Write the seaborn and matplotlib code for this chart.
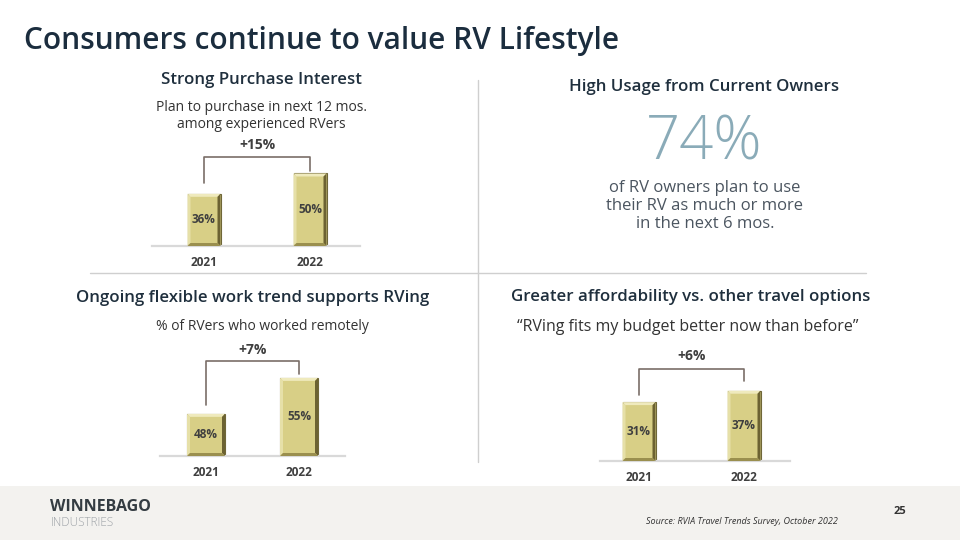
import matplotlib
matplotlib.use("Agg")
import matplotlib.pyplot as plt
import matplotlib.transforms as mtransforms
from matplotlib.patches import Polygon, Rectangle
from matplotlib.lines import Line2D
import seaborn as sns
import pandas as pd

# ---------------- data ----------------
years = ["2021", "2022"]
purchase_values = [36, 50]
remote_values = [48, 55]
budget_values = [31, 37]
purchase_change = "+15%"
remote_change = "+7%"
budget_change = "+6%"
usage_value = "74%"

title = "Consumers continue to value RV Lifestyle"
h_purchase = "Strong Purchase Interest"
s_purchase = "Plan to purchase in next 12 mos.\namong experienced RVers"
h_usage = "High Usage from Current Owners"
s_usage = "of RV owners plan to use\ntheir RV as much or more\nin the next 6 mos."
h_remote = "Ongoing flexible work trend supports RVing"
s_remote = "% of RVers who worked remotely"
h_budget = "Greater affordability vs. other travel options"
s_budget = "\u201cRVing fits my budget better now than before\u201d"
source = "Source: RVIA Travel Trends Survey, October 2022"
page_no = "25"

# ---------------- style ----------------
sns.set_theme(style="white")
plt.rcParams["font.family"] = ["Open Sans", "DejaVu Sans"]

W, H = 960, 540
fig = plt.figure(figsize=(9.6, 5.4), dpi=100)
fig.patch.set_facecolor("white")

def fx(px):
    return px / W

def fy(py):
    return 1 - py / H

NAVY = "#1b2d3e"
HEAD = "#1f2f3d"
TXT = "#333333"
LAB = "#3f3f3f"
BAR = "#d8cf86"

# footer band
fig.add_artist(Rectangle((0, 0), 1, fy(486), transform=fig.transFigure,
                         facecolor="#f3f2ef", edgecolor="none", zorder=0))

# dividers
fig.add_artist(Line2D([fx(478), fx(478)], [fy(80), fy(462)], transform=fig.transFigure,
                      color="#cfcfcf", lw=1))
fig.add_artist(Line2D([fx(90), fx(866)], [fy(273), fy(273)], transform=fig.transFigure,
                      color="#cfcfcf", lw=1))

# title
fig.text(fx(24), fy(41), title, fontsize=21.5, fontweight="semibold", color=NAVY,
         ha="left", va="center")

# headings / subtitles
HS = 12.2
fig.text(fx(261), fy(80), h_purchase, fontsize=HS, fontweight="semibold", color=HEAD,
         ha="center", va="center")
fig.text(fx(261), fy(116), s_purchase, fontsize=10, color=TXT, ha="center", va="center",
         linespacing=1.25)
fig.text(fx(704), fy(87), h_usage, fontsize=HS, fontweight="semibold", color=HEAD,
         ha="center", va="center")
fig.text(fx(704), fy(144), usage_value, fontsize=43, fontweight=300, color="#8aabb8",
         ha="center", va="center")
fig.text(fx(705), fy(206), s_usage, fontsize=12, color="#4b5560", ha="center", va="center",
         linespacing=1.2)
fig.text(fx(253), fy(298), h_remote, fontsize=HS, fontweight="semibold", color=HEAD,
         ha="center", va="center")
fig.text(fx(262), fy(327), s_remote, fontsize=10, color=TXT, ha="center", va="center")
fig.text(fx(691), fy(297), h_budget, fontsize=HS, fontweight="semibold", color=HEAD,
         ha="center", va="center")
fig.text(fx(688), fy(327), s_budget, fontsize=11.5, color=TXT, ha="center", va="center")

# footer texts
fig.text(fx(50), fy(507), "WINNEBAGO", fontsize=11.5, fontweight="bold", color="#343c42",
         ha="left", va="center")
fig.text(fx(51), fy(523), "INDUSTRIES", fontsize=8.5, fontweight=300, color="#9ea3a8",
         ha="left", va="center")
fig.text(fx(900), fy(512), page_no, fontsize=8, fontweight="bold", color="#333333",
         ha="center", va="center")
fig.text(fx(838), fy(522), source, fontsize=6.5, style="italic", color="#333333",
         ha="right", va="center")


def bar_panel(values, change, baseline, k, v0, c0, c1, bw, xl, xr,
              gap_h, gap_l, gap_r, gap_lab):
    top_px = 150
    rect = [fx(xl), fy(baseline), (xr - xl) / W, top_px / H]
    ax = fig.add_axes(rect)
    d = c1 - c0
    df = pd.DataFrame({"year": years, "value": values})
    sns.barplot(data=df, x="year", y="value", ax=ax, color=BAR, width=bw / d,
                edgecolor="#6f6738", linewidth=0.8, saturation=1)
    ax.set_xlim((xl - c0) / d, (xr - c0) / d)
    ax.set_ylim(v0, v0 + top_px / k)
    ax.set_xlabel("")
    ax.set_ylabel("")
    ax.set_yticks([])
    ax.set_facecolor("none")
    for s in ["top", "right", "left"]:
        ax.spines[s].set_visible(False)
    ax.spines["bottom"].set_color("#d9d9d9")
    ax.spines["bottom"].set_linewidth(1.6)
    ax.tick_params(axis="x", length=0, pad=7)
    for t in ax.get_xticklabels():
        t.set_fontsize(8.5)
        t.set_fontweight("bold")
        t.set_color(LAB)

    # bevel effect and value labels
    ident = mtransforms.IdentityTransform()
    tops = []
    for p in ax.patches:
        x0, w, h = p.get_x(), p.get_width(), p.get_height()
        (X0, Y0), (X1, Y1) = ax.transData.transform([(x0, v0), (x0 + w, h)])
        b = 3.0
        for pts, col in [
            ([(X0, Y0), (X0 + b, Y0 + b), (X0 + b, Y1 - b), (X0, Y1)], "#e6e0a8"),
            ([(X0, Y1), (X0 + b, Y1 - b), (X1 - b, Y1 - b), (X1, Y1)], "#efeabd"),
            ([(X1, Y1), (X1 - b, Y1 - b), (X1 - b, Y0 + b), (X1, Y0)], "#6c6232"),
            ([(X0, Y0), (X0 + b, Y0 + b), (X1 - b, Y0 + b), (X1, Y0)], "#9a8f4e"),
        ]:
            ax.add_patch(Polygon(pts, closed=True, transform=ident, facecolor=col,
                                 edgecolor="none", clip_on=False, zorder=3))
        ax.text(x0 + w / 2, (v0 + h) / 2, f"{int(round(h))}%", ha="center", va="center",
                fontsize=8.5, fontweight="bold", color=LAB, zorder=4)
        tops.append(h)

    # bracket
    def up(v, px):
        return v + px / k
    ymax = max(tops)
    yh = up(ymax, gap_h)
    xs = [0, 0, 1, 1]
    ys = [up(tops[0], gap_l), yh, yh, up(tops[1], gap_r)]
    ax.plot(xs, ys, color="#7a6e68", lw=1.2, clip_on=False, zorder=2)
    ax.text(0.5, up(yh, gap_lab), change, ha="center", va="center", fontsize=10,
            fontweight="bold", color=LAB)
    return ax


bar_panel(purchase_values, purchase_change, baseline=246, k=1.45, v0=0,
          c0=204, c1=310, bw=33, xl=152, xr=360,
          gap_h=16, gap_l=11, gap_r=2, gap_lab=12)
bar_panel(remote_values, remote_change, baseline=456, k=5.14, v0=39.8,
          c0=206, c1=299, bw=38, xl=160, xr=345,
          gap_h=17, gap_l=9, gap_r=4, gap_lab=11)
bar_panel(budget_values, budget_change, baseline=461, k=1.9, v0=0,
          c0=639, c1=744, bw=33, xl=600, xr=790,
          gap_h=22, gap_l=7, gap_r=10, gap_lab=13)

fig.savefig("out.png", dpi=100)
